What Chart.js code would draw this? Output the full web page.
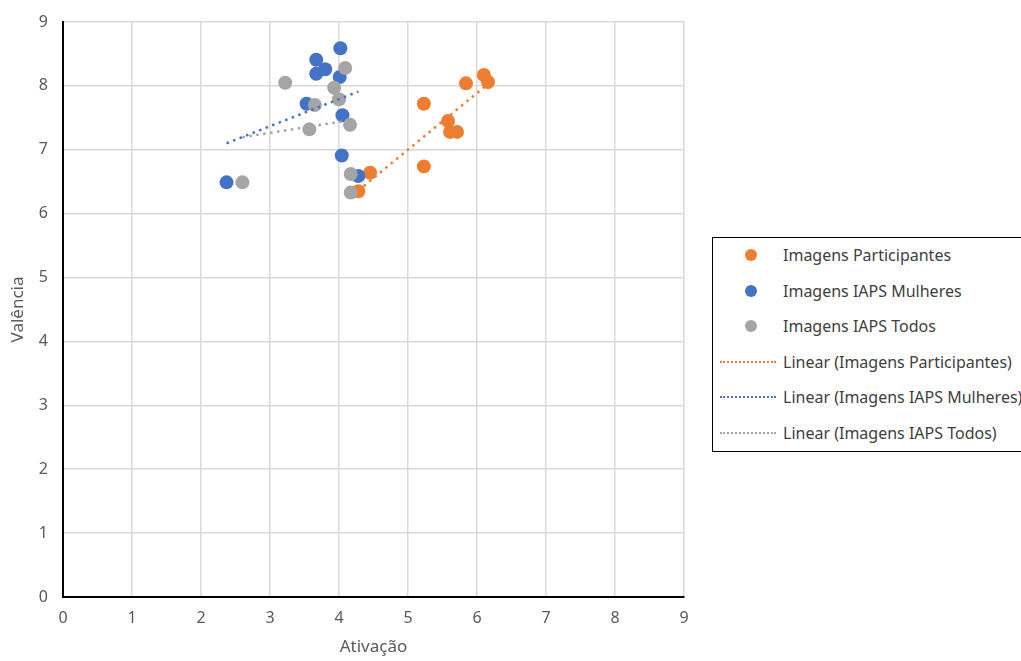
<!DOCTYPE html>
<html>
<head>
<meta charset="utf-8">
<script src="https://cdn.jsdelivr.net/npm/chart.js@4.4.1/dist/chart.umd.min.js"></script>
<style>
  html, body { margin: 0; padding: 0; background: #fff; overflow: hidden; }
  #wrap { position: relative; width: 1021px; height: 661px; overflow: hidden; }
  #legend {
    position: absolute; left: 712px; top: 237px; width: 340px; height: 215px;
    border: 1.5px solid #000; box-sizing: border-box; background: #fff;
    font-family: "Noto Sans", sans-serif; font-size: 16px; color: #404040;
  }
  .row { position: absolute; left: 0; height: 22px; display: flex; align-items: center; white-space: nowrap; }
  .sym { width: 70px; height: 22px; position: relative; }
  .dot { position: absolute; left: 32px; top: 5px; width: 12px; height: 12px; border-radius: 50%; }
  .dash { position: absolute; left: 7px; top: 10px; width: 56px; height: 0; border-top: 2px dotted; }
</style>
</head>
<body>
<div id="wrap">
  <canvas id="scatter" width="1021" height="661"></canvas>
  <div id="legend"></div>
</div>
<script>
// valores (Ativação, Valência)
const seriesNames = ["Imagens Participantes", "Imagens IAPS Mulheres", "Imagens IAPS Todos"];
const seriesColors = ["#ED7D31", "#4472C4", "#A5A5A5"];

const partX = [4.28, 4.45, 5.23, 5.23, 5.58, 5.61, 5.71, 5.84, 6.10, 6.16];
const partY = [6.35, 6.64, 7.72, 6.74, 7.45, 7.28, 7.28, 8.04, 8.17, 8.06];

const mulhX = [4.02, 3.67, 3.80, 3.67, 4.01, 3.53, 4.05, 4.04, 2.37, 4.28];
const mulhY = [8.59, 8.41, 8.26, 8.19, 8.14, 7.72, 7.54, 6.91, 6.49, 6.59];

const todosX = [4.09, 3.22, 3.93, 4.00, 3.65, 4.16, 3.57, 2.60, 4.17, 4.17];
const todosY = [8.28, 8.05, 7.97, 7.79, 7.70, 7.39, 7.32, 6.49, 6.62, 6.33];

const axisTicks = [0, 1, 2, 3, 4, 5, 6, 7, 8, 9];

function toPoints(xs, ys) {
  return xs.map((x, i) => ({ x, y: ys[i] }));
}

// linha de tendência linear (mínimos quadrados), como no Excel
function trend(xs, ys) {
  const n = xs.length;
  const mx = xs.reduce((a, b) => a + b, 0) / n;
  const my = ys.reduce((a, b) => a + b, 0) / n;
  let sxy = 0, sxx = 0;
  xs.forEach((x, i) => { sxy += (x - mx) * (ys[i] - my); sxx += (x - mx) ** 2; });
  const b = sxy / sxx, a = my - b * mx;
  const x0 = Math.min(...xs), x1 = Math.max(...xs);
  return [{ x: x0, y: a + b * x0 }, { x: x1, y: a + b * x1 }];
}

const xsAll = [partX, mulhX, todosX];
const ysAll = [partY, mulhY, todosY];

const datasets = [];
seriesNames.forEach((name, i) => {
  datasets.push({
    label: name,
    data: toPoints(xsAll[i], ysAll[i]),
    backgroundColor: seriesColors[i],
    borderColor: seriesColors[i],
    pointRadius: 7,
    pointBorderWidth: 0,
    showLine: false,
    order: 3 - i,
  });
});
seriesNames.forEach((name, i) => {
  datasets.push({
    label: "Linear (" + name + ")",
    data: trend(xsAll[i], ysAll[i]),
    borderColor: seriesColors[i],
    borderWidth: 2.5,
    borderDash: [2.5, 4.5],
    pointRadius: 0,
    showLine: true,
    fill: false,
    order: 0,
  });
});

const tickFont = { family: "'Noto Sans', sans-serif", size: 16 };
const titleFont = { family: "'Noto Sans', sans-serif", size: 17 };

new Chart(document.getElementById("scatter").getContext("2d"), {
  type: "scatter",
  data: { datasets },
  options: {
    responsive: false,
    animation: false,
    layout: { padding: { top: 22, right: 337, left: 0, bottom: 0 } },
    plugins: { legend: { display: false }, tooltip: { enabled: false } },
    scales: {
      x: {
        type: "linear", min: 0, max: 9,
        afterBuildTicks: (s) => { s.ticks = axisTicks.map((v) => ({ value: v })); },
        afterFit: (s) => { s.height = 64; s.paddingLeft = 0; s.paddingRight = 0; },
        grid: { color: "#d9d9d9", lineWidth: 1.5, drawTicks: false },
        border: { color: "#000", width: 2 },
        ticks: { color: "#595959", font: tickFont, padding: 12 },
        title: { display: true, text: "Ativação", color: "#595959", font: titleFont, padding: { top: 4 } },
      },
      y: {
        type: "linear", min: 0, max: 9,
        afterBuildTicks: (s) => { s.ticks = axisTicks.map((v) => ({ value: v })); },
        afterFit: (s) => { s.width = 63; s.paddingTop = 0; s.paddingBottom = 0; },
        grid: { color: "#d9d9d9", lineWidth: 1.5, drawTicks: false },
        border: { color: "#000", width: 2 },
        ticks: { color: "#595959", font: tickFont, padding: 15 },
        title: { display: true, text: "Valência", color: "#595959", font: titleFont, padding: { top: 8, bottom: 0 } },
      },
    },
  },
});

// legenda em HTML
const legend = document.getElementById("legend");
datasets.forEach((ds, i) => {
  const row = document.createElement("div");
  row.className = "row";
  row.style.top = (6 + i * 35.6) + "px";
  const sym = document.createElement("div");
  sym.className = "sym";
  const mark = document.createElement("div");
  if (i < 3) {
    mark.className = "dot";
    mark.style.background = ds.backgroundColor;
  } else {
    mark.className = "dash";
    mark.style.borderTopColor = ds.borderColor;
  }
  sym.appendChild(mark);
  const txt = document.createElement("span");
  txt.textContent = ds.label;
  row.appendChild(sym);
  row.appendChild(txt);
  legend.appendChild(row);
});
</script>
</body>
</html>
